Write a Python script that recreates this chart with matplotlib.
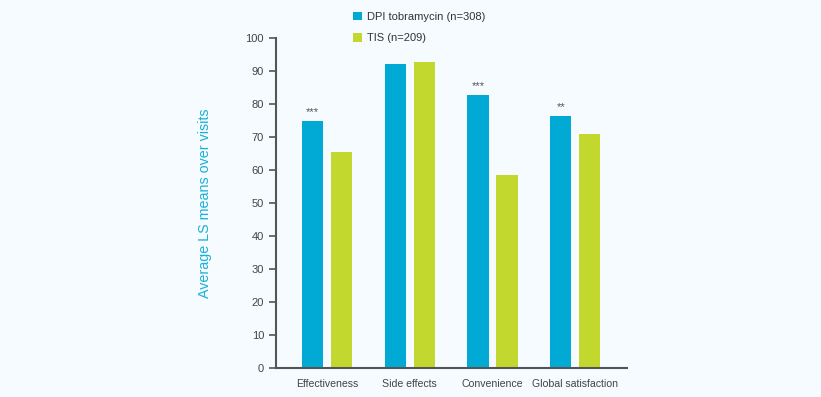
import matplotlib.pyplot as plt
import numpy as np

#data
categories = ["Effectiveness", "Side effects", "Convenience", "Global satisfaction"]
dpi_values = [75.0, 92.2, 82.8, 76.4]
tis_values = [65.6, 92.8, 58.6, 70.9]
stars = ["***", "", "***", "**"]
series_names = ["DPI tobramycin (n=308)", "TIS (n=209)"]

#colors
blue = "#00aad4"
green = "#c2d82f"
grey = "#555555"
bg = "#f5fbfe"

plt.rcParams['font.family'] = ['Liberation Sans', 'DejaVu Sans']

fig = plt.figure(figsize=(8.21, 3.97), dpi=100, facecolor=bg)
ax = fig.add_axes([0.336, 0.073, 0.428, 0.831], facecolor=bg)

x = np.arange(len(categories))
w = 0.26
off = 0.175
b1 = ax.bar(x - off, dpi_values, w, color=blue, label=series_names[0])
b2 = ax.bar(x + off, tis_values, w, color=green, label=series_names[1])

for xi, v, s in zip(x, dpi_values, stars):
    if s:
        ax.text(xi - off, v + 1.2, s, ha="center", va="bottom", fontsize=8, color=grey)

ax.set_xlim(-0.62, 3.63)
ax.set_ylim(0, 100)
ax.set_yticks(range(0, 101, 10))
ax.set_xticks(x)
ax.set_xticklabels(categories)
ax.tick_params(axis="x", length=0, labelsize=7.6, colors="#444444", pad=8)
ax.tick_params(axis="y", length=5, width=1.2, labelsize=8, colors=grey, labelcolor="#444444")

for side in ["top", "right"]:
    ax.spines[side].set_visible(False)
for side in ["left", "bottom"]:
    ax.spines[side].set_color(grey)
    ax.spines[side].set_linewidth(1.5)

ax.set_ylabel("Average LS means over visits", color="#1ab0d8", fontsize=10.3, labelpad=24)

fig.legend(handles=[b1, b2], loc="upper left", bbox_to_anchor=(0.418, 0.995),
           frameon=False, fontsize=8, handlelength=0.8, handleheight=0.8,
           handletextpad=0.4, labelspacing=1.0, labelcolor="#333333")

fig.savefig("out.png", dpi=100, facecolor=bg)
